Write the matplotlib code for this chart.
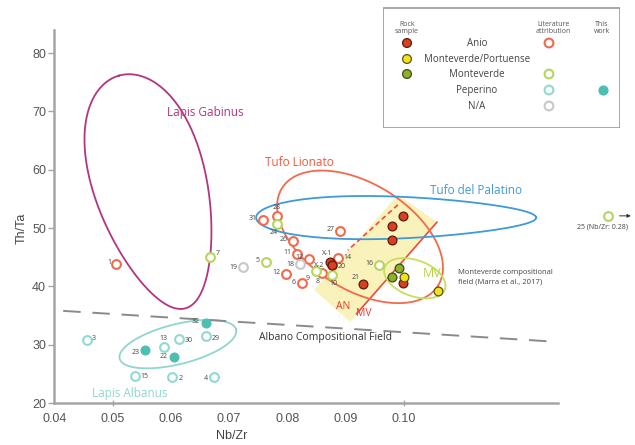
import numpy as np
import matplotlib
matplotlib.use("Agg")
import matplotlib.pyplot as plt
from matplotlib.patches import Polygon, Rectangle

plt.rcParams["font.family"] = ["Open Sans", "DejaVu Sans"]

# Rock samples (this work)
anio_x = [0.0999, 0.0980, 0.0980, 0.0930, 0.0999, 0.0873, 0.0876]
anio_y = [52.1, 50.4, 48.0, 40.4, 40.6, 44.2, 43.6]
anio_lbl = ["", "", "", "21", "", "X-1", "X-2"]
mp_x = [0.1000, 0.1059]
mp_y = [41.6, 39.2]
mv_x = [0.0992, 0.0980]
mv_y = [43.2, 41.6]

# Literature attribution
lit_anio_x = [0.0506, 0.0758, 0.0782, 0.0810, 0.0817, 0.0837, 0.0798, 0.0825, 0.0860, 0.0891, 0.0887, 0.0877]
lit_anio_y = [43.8, 51.4, 52.1, 47.8, 45.6, 44.7, 42.1, 40.6, 42.3, 49.5, 44.9, 43.7]
lit_anio_lbl = ["1", "31", "28", "26", "11", "12", "12", "6", "8", "27", "14", "20"]
lit_mv_x = [0.0668, 0.0782, 0.0763, 0.0849, 0.0877, 0.0958]
lit_mv_y = [45.0, 50.7, 44.2, 42.6, 42.0, 43.7]
lit_mv_lbl = ["7", "24", "5", "9", "10", "16"]
lit_na_x = [0.0724, 0.0822]
lit_na_y = [43.3, 43.8]
lit_na_lbl = ["19", "18"]
lit_pep_x = [0.0456, 0.0588, 0.0614, 0.0660, 0.0538, 0.0602, 0.0674]
lit_pep_y = [30.8, 29.6, 31.0, 31.5, 24.6, 24.5, 24.5]
lit_pep_lbl = ["3", "13", "30", "29", "15", "2", "4"]
pep_x = [0.0660, 0.0556, 0.0605]
pep_y = [33.7, 29.1, 27.9]
pep_lbl = ["32", "23", "22"]

# sample 25 plots off scale (Nb/Zr 0.28)
s25_x, s25_y = 0.1351, 52.1

# label offsets (points) per label
offsets = {
    "1": (-5, 1), "31": (-7, 1), "28": (0, 6), "26": (-7, 1), "11": (-7, 1),
    "12": (-7, 1), "6": (-6, 0), "8": (-3, -6), "27": (-7, 1), "14": (7, 0),
    "20": (7, -1), "7": (5, 3), "24": (-2, -6), "5": (-6, 1), "9": (-6, -5),
    "10": (1, -6), "16": (-7, 1), "19": (-7, 0), "18": (-7, 0), "3": (5, 1),
    "13": (0, 6), "30": (7, -1), "29": (7, -2), "15": (7, 0), "2": (6, -1),
    "4": (-6, -1), "32": (-7, 1), "23": (-7, -2), "22": (-7, 0), "21": (-5, 5),
    "X-1": (-2, 6), "X-2": (-9, 0),
}

albano_line = ([0.0415, 0.1262], [35.8, 30.5])
mv_boundary = ([0.1057, 0.0919], [51.0, 35.3])
an_boundary = ([0.0990, 0.0904], [54.0, 46.2])
band = [(0.0990, 55.7), (0.1057, 51.05), (0.0908, 33.9), (0.0846, 39.4)]

fig = plt.figure(figsize=(6.35, 4.45), dpi=100)
ax = fig.add_axes([0, 0, 1, 1])
ax.set_xlim(0.03064, 0.13974)
ax.set_ylim(12.796, 89.125)
ax.patch.set_alpha(0)


def outline(cx, cy, a, b, angle, egg=0.0, n=300):
    # closed curve around (cx, cy); a, b in pixels
    t = np.linspace(0, 2 * np.pi, n)
    u = a * np.cos(t)
    v = b * np.sin(t) * (1 + egg * np.cos(t))
    th = np.radians(angle)
    c = ax.transData.transform((cx, cy))
    pts = np.column_stack([c[0] + u * np.cos(th) - v * np.sin(th),
                           c[1] + u * np.sin(th) + v * np.cos(th)])
    d = ax.transData.inverted().transform(pts)
    return d[:, 0], d[:, 1]


# fields
ax.add_patch(Polygon(band, closed=True, facecolor="#f8f0b0", edgecolor="none", alpha=0.85, zorder=1))
ax.plot(*mv_boundary, color="#ee4a3a", lw=1.2, zorder=2)
ax.plot(*an_boundary, color="#ee4a3a", lw=1.2, ls=(0, (3, 2)), zorder=2)
ax.plot(*outline(0.0568, 56.2, 121, 56, 106, egg=0.18), color="#b2367f", lw=1.3, zorder=2)
ax.plot(*outline(0.0925, 48.5, 92, 53, -32), color="#f26a4c", lw=1.3, zorder=2)
ax.plot(*outline(0.0987, 51.8, 140, 21, 0, egg=-0.25), color="#3f9ad8", lw=1.3, zorder=2)
ax.plot(*outline(0.0612, 30.1, 60, 20, 14), color="#8fd6cd", lw=1.3, zorder=2)
ax.plot(*outline(0.1019, 41.4, 32, 18, -20), color="#c8de5e", lw=1.3, zorder=2)
ax.plot(*albano_line, color="#8a8a8a", lw=1.4, ls=(0, (9, 6)), zorder=2)

ax.text(0.0659, 69.9, "Lapis Gabinus", color="#b2367f", fontsize=8.5, ha="center", va="center")
ax.text(0.0820, 61.2, "Tufo Lionato", color="#f2583a", fontsize=8.5, ha="center", va="center")
ax.text(0.1124, 56.5, "Tufo del Palatino", color="#3f9ad8", fontsize=8.5, ha="center", va="center")
ax.text(0.0865, 31.3, "Albano Compositional Field", color="#333333", fontsize=7.5, ha="center", va="center")
ax.text(0.0530, 21.7, "Lapis Albanus", color="#8fd6cd", fontsize=8.5, ha="center", va="center")
ax.text(0.1049, 42.2, "MV", color="#b5d33c", fontsize=9, ha="center", va="center")
ax.text(0.0896, 36.5, "AN", color="#ee3a2a", fontsize=7.5, ha="center", va="center")
ax.text(0.0932, 35.4, "MV", color="#ee3a2a", fontsize=7.5, ha="center", va="center")
ax.text(0.1093, 41.6, "Monteverde compositional\nfield (Marra et al., 2017)", color="#444444",
        fontsize=5.5, ha="left", va="center", linespacing=1.4)

# markers
ms = 40
open_kw = dict(s=ms, facecolor="white", linewidths=1.5, zorder=4, clip_on=False)
fill_kw = dict(s=ms, linewidths=0.9, zorder=5, clip_on=False)
ax.scatter(lit_anio_x, lit_anio_y, edgecolor="#f26a4c", **open_kw)
ax.scatter(lit_mv_x, lit_mv_y, edgecolor="#b5d65c", **open_kw)
ax.scatter(lit_na_x, lit_na_y, edgecolor="#c8c8c8", **open_kw)
ax.scatter(lit_pep_x, lit_pep_y, edgecolor="#93d9d2", **open_kw)
ax.scatter([s25_x], [s25_y], edgecolor="#b5d65c", **open_kw)
ax.scatter(pep_x, pep_y, facecolor="#4cc0b0", edgecolor="#4cc0b0", **fill_kw)
ax.scatter(anio_x, anio_y, facecolor="#d8401f", edgecolor="#5a1a10", **fill_kw)
ax.scatter(mp_x, mp_y, facecolor="#f2e21b", edgecolor="#5a5410", **fill_kw)
ax.scatter(mv_x, mv_y, facecolor="#8fb12a", edgecolor="#3d4d12", **fill_kw)

for xs, ys, lbls in [(lit_anio_x, lit_anio_y, lit_anio_lbl), (lit_mv_x, lit_mv_y, lit_mv_lbl),
                     (lit_na_x, lit_na_y, lit_na_lbl), (lit_pep_x, lit_pep_y, lit_pep_lbl),
                     (pep_x, pep_y, pep_lbl), (anio_x, anio_y, anio_lbl)]:
    for x, y, l in zip(xs, ys, lbls):
        if not l:
            continue
        ax.annotate(l, (x, y), xytext=offsets[l], textcoords="offset points", fontsize=5,
                    color="#444444", ha="center", va="center", zorder=6)

ax.annotate("", xy=(0.1395, s25_y), xytext=(0.1366, s25_y),
            arrowprops=dict(arrowstyle="-|>", color="#333333", lw=0.7, mutation_scale=5))
ax.text(0.1298, 50.2, "25 (Nb/Zr: 0.28)", fontsize=5, color="#444444", ha="left", va="center")

# axes styling
for side in ["top", "right"]:
    ax.spines[side].set_visible(False)
ax.spines["left"].set_position(("data", 0.04))
ax.spines["left"].set_bounds(20, 84)
ax.spines["bottom"].set_position(("data", 20))
ax.spines["bottom"].set_bounds(0.04, 0.1265)
for side in ["left", "bottom"]:
    ax.spines[side].set_color("#a5a5a5")
    ax.spines[side].set_linewidth(1.8)
ax.set_yticks([20, 30, 40, 50, 60, 70, 80])
ax.set_xticks([0.04, 0.05, 0.06, 0.07, 0.08, 0.09, 0.10])
ax.set_xticklabels(["0.04", "0.05", "0.06", "0.07", "0.08", "0.09", "0.10"])
ax.tick_params(axis="y", length=4, width=1, color="#a5a5a5", pad=2, labelsize=9, labelcolor="#555555")
ax.tick_params(axis="x", length=0, pad=7, labelsize=9, labelcolor="#555555")
for lab in ax.get_xticklabels() + ax.get_yticklabels():
    lab.set_family("Liberation Sans")
ax.plot([0.05, 0.10], [20, 20], ls="none", marker="|", ms=4, color="#a5a5a5", clip_on=False)

fig.text(22 / 635, 1 - 228 / 445, "Th/Ta", rotation=90, ha="center", va="center", fontsize=9,
         color="#444444", family="Liberation Sans")
fig.text(232 / 635, 1 - 436 / 445, "Nb/Zr", ha="center", va="center", fontsize=9,
         color="#444444", family="Liberation Sans")

# legend box
lax = fig.add_axes([383 / 635, 1 - 128 / 445, 237 / 635, 121 / 445])
lax.set_xlim(0, 237)
lax.set_ylim(121, 0)
lax.axis("off")
lax.add_patch(Rectangle((0.5, 0.5), 236, 120, facecolor="white", edgecolor="#999999", lw=1.2))
hdr = dict(fontsize=5, color="#555555", ha="center", va="center", linespacing=0.9)
lax.text(24, 21, "Rock\nsample", **hdr)
lax.text(170, 21, "Literature\nattribution", **hdr)
lax.text(219, 21, "This\nwork", **hdr)
rows = ["Anio", "Monteverde/Portuense", "Monteverde", "Peperino", "N/A"]
row_y = [36, 52, 67, 83, 99]
for name, yy in zip(rows, row_y):
    lax.text(94, yy, name, fontsize=7, color="#444444", ha="center", va="center")
lax.scatter([24, 24, 24], row_y[:3], s=ms, facecolor=["#d8401f", "#f2e21b", "#8fb12a"],
            edgecolor=["#5a1a10", "#5a5410", "#3d4d12"], linewidths=0.9)
lax.scatter([166, 166, 166, 166], [row_y[0], row_y[2], row_y[3], row_y[4]], s=ms, facecolor="white",
            edgecolor=["#f26a4c", "#b5d65c", "#93d9d2", "#c8c8c8"], linewidths=1.5)
lax.scatter([220], [row_y[3]], s=ms, facecolor="#4cc0b0", edgecolor="#4cc0b0")

fig.savefig("out.png", dpi=100)
